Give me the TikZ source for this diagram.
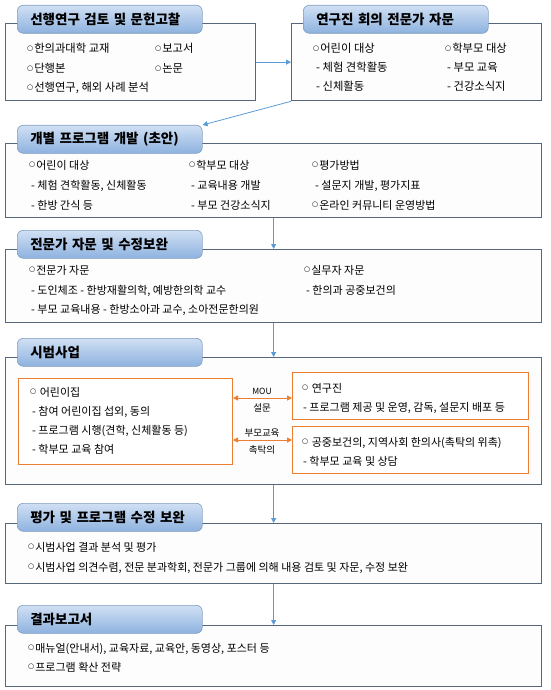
\documentclass[tikz,border=0pt]{standalone}
\usepackage{fontspec}
\setmainfont{Noto Sans CJK KR}
\newfontfamily\symfont{DejaVu Sans}
\usetikzlibrary{arrows.meta}
\definecolor{frame}{HTML}{56677C}
\definecolor{tabtop}{HTML}{D0E0F4}
\definecolor{tabbot}{HTML}{8EB2DF}
\definecolor{tabline}{HTML}{7F9CC0}
\definecolor{arrowblue}{HTML}{5B9BD5}
\definecolor{orng}{HTML}{ED7D31}
\definecolor{panelfill}{HTML}{FDFDFD}
\newcommand{\oo}{\raisebox{2.3pt}{\symfont\fontsize{7}{7}\selectfont ○}\kern1pt}
\tikzset{
  panel/.style={draw=frame, line width=1.3pt, fill=panelfill, anchor=north west, inner sep=0},
  tabbox/.style={rounded corners=6pt, draw=tabline, line width=0.6pt, top color=tabtop, bottom color=tabbot,
    anchor=north west, text width=159pt, inner xsep=13pt, inner ysep=0, minimum height=28pt, align=left,
    font=\bfseries\fontsize{13.5}{15}\selectfont},
  body/.style={anchor=base west, inner sep=0, font=\fontsize{11}{13}\selectfont},
  bodyL/.style={anchor=base west, inner sep=0, font=\fontsize{11.3}{13}\selectfont},
  obox/.style={draw=orng, line width=1pt, fill=white, anchor=north west, inner sep=0},
  lbl/.style={inner sep=0, font=\fontsize{9.5}{10}\selectfont},
  arr/.style={draw=arrowblue, line width=0.8pt, -{Triangle[length=5pt,width=5pt]}},
  oarr/.style={draw=orng, line width=1pt, {Triangle[length=5pt,width=5pt]}-{Triangle[length=5pt,width=5pt]}}
}
\begin{document}
\begin{tikzpicture}[x=1pt,y=-1pt]
\useasboundingbox (0,0) rectangle (550,690);
% box 1
\node[panel, minimum width=250pt, minimum height=77pt] (b1) at (5,23) {};
\node[tabbox] (t1) at (17,5) {선행연구 검토 및 문헌고찰};
\node[bodyL] (b1a) at (27,53) {\oo 한의과대학 교재};
\node[bodyL] (b1b) at (155,53) {\oo 보고서};
\node[bodyL] (b1c) at (27,73) {\oo 단행본};
\node[bodyL] (b1d) at (155,73) {\oo 논문};
\node[bodyL] (b1e) at (27,92) {\oo 선행연구, 해외 사례 분석};
% box 2
\node[panel, minimum width=250pt, minimum height=77pt] (b2) at (291,23) {};
\node[tabbox] (t2) at (303,5) {연구진 회의 전문가 자문};
\node[bodyL] (b2a) at (313,53) {\oo 어린이 대상};
\node[bodyL] (b2b) at (316,72) {- 체험 견학활동};
\node[bodyL] (b2c) at (316,91) {- 신체활동};
\node[bodyL] (b2d) at (445,53) {\oo 학부모 대상};
\node[bodyL] (b2e) at (447,72) {- 부모 교육};
\node[bodyL] (b2f) at (447,91) {- 건강소식지};
% box 3
\node[panel, minimum width=536pt, minimum height=74pt] (b3) at (5,143) {};
\node[tabbox] (t3) at (17,125) {개별 프로그램 개발 (초안)};
\node[body] (b3a) at (29,169) {\oo 어린이 대상};
\node[body] (b3b) at (31,189) {- 체험 견학활동, 신체활동};
\node[body] (b3c) at (31,209) {- 한방 간식 등};
\node[body] (b3d) at (189,169) {\oo 학부모 대상};
\node[body] (b3e) at (191,189) {- 교육내용 개발};
\node[body] (b3f) at (191,209) {- 부모 건강소식지};
\node[body] (b3g) at (312,169) {\oo 평가방법};
\node[body] (b3h) at (315,189) {- 설문지 개발, 평가지표};
\node[body] (b3i) at (312,209) {\oo 온라인 커뮤니티 운영방법};
% box 4
\node[panel, minimum width=536pt, minimum height=73pt] (b4) at (5,249) {};
\node[tabbox] (t4) at (17,230) {전문가 자문 및 수정보완};
\node[body] (b4a) at (29,274) {\oo 전문가 자문};
\node[body] (b4b) at (31,294) {- 도인체조 - 한방재활의학, 예방한의학 교수};
\node[body] (b4c) at (31,313) {- 부모 교육내용 - 한방소아과 교수, 소아전문한의원};
\node[body] (b4d) at (304,274) {\oo 실무자 자문};
\node[body] (b4e) at (306,294) {- 한의과 공중보건의};
% box 5
\node[panel, minimum width=536pt, minimum height=127pt] (b5) at (5,357) {};
\node[tabbox] (t5) at (17,338) {시범사업};
\node[obox, minimum width=214pt, minimum height=86pt] (lb) at (18,378) {};
\node[body] (lba) at (30,396) {\oo\ 어린이집};
\node[body] (lbb) at (32,415) {- 참여 어린이집 섭외, 동의};
\node[body] (lbc) at (32,434) {- 프로그램 시행(견학, 신체활동 등)};
\node[body] (lbd) at (32,453) {- 학부모 교육 참여};
\node[obox, minimum width=236pt, minimum height=47pt] (rt) at (292,372) {};
\node[body] (rta) at (302,392) {\oo\ 연구진};
\node[body] (rtb) at (303,411) {- 프로그램 제공 및 운영, 감독, 설문지 배포 등};
\node[obox, minimum width=236pt, minimum height=47pt] (rb) at (292,426) {};
\node[body] (rba) at (302,446) {\oo\ 공중보건의, 지역사회 한의사(촉탁의 위촉)};
\node[body] (rbb) at (303,465) {- 학부모 교육 및 상담};
\draw[oarr] (lb.east |- 0,398) -- (rt.west |- 0,398);
\draw[oarr] (lb.east |- 0,440) -- (rb.west |- 0,440);
\node[lbl, font=\fontsize{8.5}{9}\selectfont] (m1) at (262,391) {MOU};
\node[lbl] (m2) at (262,408) {설문};
\node[lbl] (m3) at (262,433) {부모교육};
\node[lbl] (m4) at (262,450) {촉탁의};
% box 6
\node[panel, minimum width=536pt, minimum height=60pt] (b6) at (5,523) {};
\node[tabbox] (t6) at (17,503) {평가 및 프로그램 수정 보완};
\node[body] (b6a) at (28,551) {\oo 시범사업 결과 분석 및 평가};
\node[body] (b6b) at (28,571) {\oo 시범사업 의견수렴, 전문 분과학회, 전문가 그룹에 의해 내용 검토 및 자문, 수정 보완};
% box 7
\node[panel, minimum width=536pt, minimum height=61pt] (b7) at (5,625) {};
\node[tabbox] (t7) at (17,605) {결과보고서};
\node[body] (b7a) at (28,652) {\oo 매뉴얼(안내서), 교육자료, 교육안, 동영상, 포스터 등};
\node[body] (b7b) at (28,671) {\oo 프로그램 확산 전략};
% connectors
\draw[arr] (b1.east) -- (b2.west);
\draw[arr] (b2.south west) -- (t3.north east);
\draw[arr] (b3.south) -- (b4.north);
\draw[arr] (b4.south) -- (b5.north);
\draw[arr] (b5.south) -- (b6.north);
\draw[arr] (b6.south) -- (b7.north);
\end{tikzpicture}
\end{document}
